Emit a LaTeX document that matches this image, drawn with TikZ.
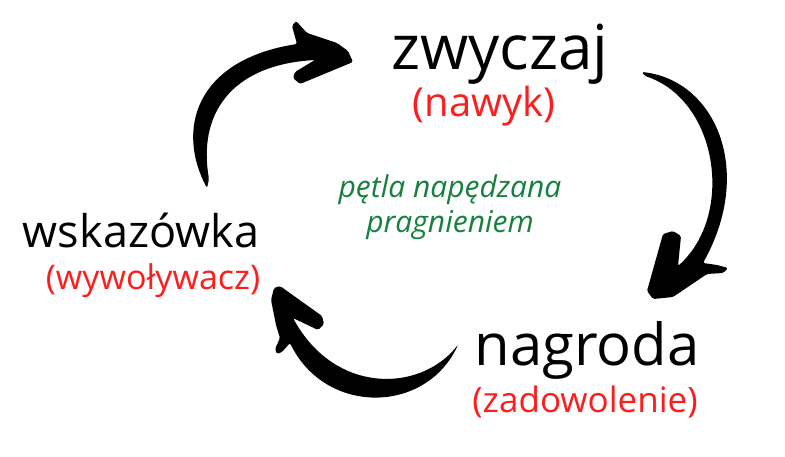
\documentclass[tikz,border=0pt]{standalone}
\usepackage{fontspec}
\setmainfont{Open Sans}
\usetikzlibrary{positioning}
\definecolor{cuered}{RGB}{255,28,28}
\definecolor{loopgreen}{RGB}{22,128,62}

\begin{document}
\begin{tikzpicture}[x=1pt, y=-1pt]
		\tikzstyle{word}=[inner sep=0pt, anchor=base]
		\tikzstyle{sub}=[inner sep=0pt, text=cuered]
		\tikzstyle{note}=[inner sep=0pt, anchor=base, text=loopgreen, font=\fontsize{30}{30}\selectfont\itshape]
		\tikzstyle{brush}=[fill=black, rounded corners=1.5pt]
		\useasboundingbox (0,0) rectangle (785,457);
		
		\node[word, font=\fontsize{62}{62}\selectfont] (zw)  at (500,70)  {zwyczaj};
		\node[word, font=\fontsize{58}{58}\selectfont] (nag) at (587,365) {nagroda};
		\node[word, font=\fontsize{45}{45}\selectfont] (wsk) at (141,248) {wskazówka};
		
		\node[sub, font=\fontsize{40}{40}\selectfont] (nawyk) [below=47pt of zw.base,  anchor=base, xshift=-16pt] {(nawyk)};
		\node[sub, font=\fontsize{34}{34}\selectfont] (wyw)   [below=42pt of wsk.base, anchor=base, xshift=12pt]  {(wywoływacz)};
		\node[sub, font=\fontsize{35}{35}\selectfont] (zad)   [below=47pt of nag.base, anchor=base, xshift=-2pt]  {(zadowolenie)};
		
		\node[note] (loop)  at (450,198) {pętla napędzana};
		\node[note] (loop2) [below=35pt of loop.base, anchor=base] {pragnieniem};
		
		% wskazowka -> zwyczaj
		\fill[brush] (207,188) .. controls (176,130) and (195,60) .. (297,44)
		-- (292,26) -- (296,21) -- (307,33) -- (337,43) -- (348,51) -- (353,62)
		-- (300,84) -- (293,78) -- (295,72) -- (315,60)
		.. controls (230,65) and (198,115) .. (209,179) -- cycle;
		
		% zwyczaj -> nagroda
		\fill[brush] (642,72) .. controls (715,80) and (755,170) .. (703,263)
		-- (717,265) -- (728,268) -- (723,273) -- (707,274) -- (673,297)
		-- (653,299) -- (647,291) -- (663,234) -- (673,231) -- (681,236) -- (678,266)
		.. controls (735,215) and (718,100) .. (645,76) -- cycle;
		
		% nagroda -> wskazowka
		\fill[brush] (457,346) .. controls (420,392) and (335,395) .. (293,318)
		-- (318,330) -- (324,324) -- (322,316) -- (280,286) -- (274,288)
		-- (271,300) -- (276,325) -- (280,338) -- (275,349) -- (277,354)
		-- (282,352) -- (290,343)
		.. controls (325,415) and (425,415) .. (458,345) -- cycle;
		
\end{tikzpicture}
\end{document}
